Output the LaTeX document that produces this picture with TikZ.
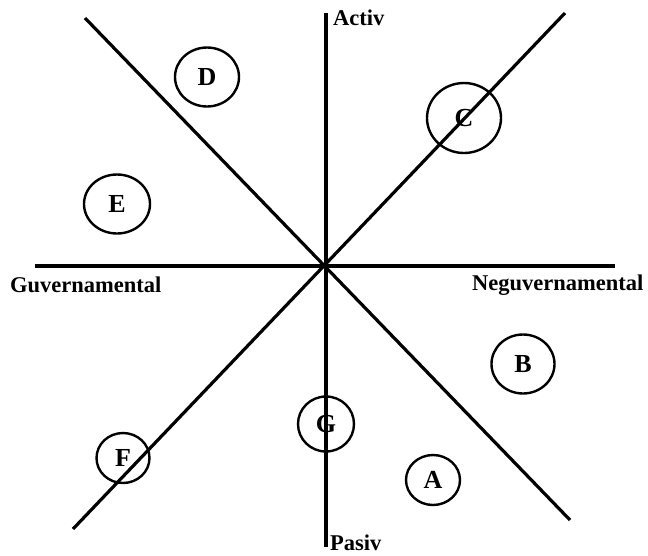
\documentclass[tikz,border=0pt]{standalone}
\usepackage{fontspec}
\setmainfont{Liberation Serif}
\usetikzlibrary{shapes.geometric}
\begin{document}
\begin{tikzpicture}[x=1pt,y=-1pt,
  axis/.style={line width=3.2pt},
  lbl/.style={font=\bfseries\fontsize{22.5}{22.5}\selectfont, inner sep=0pt, anchor=west},
  bubble/.style={draw, line width=2.4pt, ellipse, inner sep=0pt, font=\bfseries\fontsize{26}{26}\selectfont}]
\useasboundingbox (0,0) rectangle (648,555);
\coordinate (vt) at (326,13);
\coordinate (vb) at (326,547);
\coordinate (hl) at (35,266);
\coordinate (hr) at (615,266);
\coordinate (nw) at (85,18);
\coordinate (se) at (570,520);
\coordinate (sw) at (73,529);
\coordinate (ne) at (565,13);
\draw[axis] (vt) -- (vb);
\draw[axis] (hl) -- (hr);
\draw[axis] (nw) -- (se);
\draw[axis] (sw) -- (ne);
\node[lbl] (activ) at (333,18) {Activ};
\node[lbl] (pasiv) at (330,543) {Pasiv};
\node[lbl] (guv) at (10,285) {Guvernamental};
\node[lbl] (neguv) at (472,285) {Neguvernamental};
\node[bubble, minimum width=64pt, minimum height=59pt] (D) at (207,77) {D};
\node[bubble, minimum width=74pt, minimum height=70pt] (C) at (464,118) {C};
\node[bubble, minimum width=66pt, minimum height=59pt] (E) at (117,204) {E};
\node[bubble, minimum width=63pt, minimum height=59pt] (B) at (523,364) {B};
\node[bubble, minimum width=56pt, minimum height=55pt] (G) at (326,424) {G};
\node[bubble, minimum width=53pt, minimum height=50pt] (F) at (123,458) {F};
\node[bubble, minimum width=54pt, minimum height=50pt] (A) at (433,480) {A};
\end{tikzpicture}
\end{document}
